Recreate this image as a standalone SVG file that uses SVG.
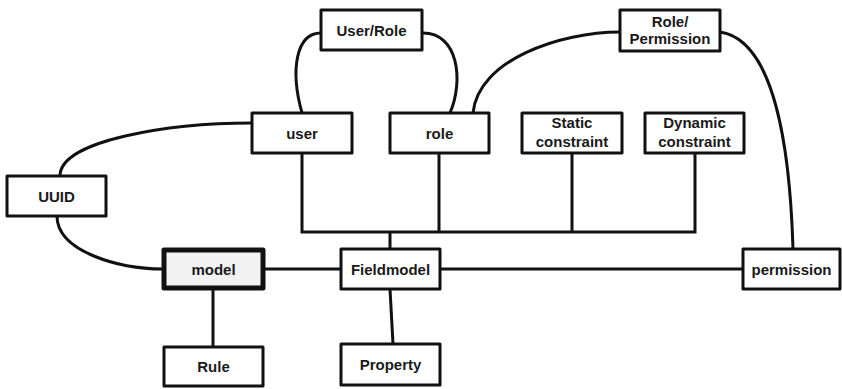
<svg xmlns="http://www.w3.org/2000/svg" width="842" height="389" viewBox="0 0 842 389">
<style>
.box{fill:#fff;stroke:#111;stroke-width:3;stroke-linejoin:round}
.main{fill:#f2f2f2;stroke:#111;stroke-width:5;stroke-linejoin:round}
.lbl{font-family:"Liberation Sans",Arial,sans-serif;font-weight:bold;font-size:15px;fill:#1a1a1a;text-anchor:middle}
.edge{fill:none;stroke:#111;stroke-width:3}
</style>
<rect width="842" height="389" fill="#fff"/>
<g id="connectors">
<path class="edge" d="M264,269 H341"/>
<path class="edge" d="M440,269 H743"/>
<path class="edge" d="M213,289 V346"/>
<path class="edge" d="M390,289 L393,344"/>
<path class="edge" d="M390,232 V249"/>
<path class="edge" d="M302,153 V232 H695 V153"/>
<path class="edge" d="M439,153 V232"/>
<path class="edge" d="M572,153 V232"/>
<path class="edge" d="M57,216 C57,252 120,269 163,269"/>
<path class="edge" d="M60,176 C60,140 170,123 252,123"/>
<path class="edge" d="M302,113 C290,70 296,33 321,33"/>
<path class="edge" d="M423,33 C458,33 464,80 450,113"/>
<path class="edge" d="M473,113 C478,60 560,32 620,32"/>
<path class="edge" d="M720,32 C775,40 790,150 793,249"/>
</g>
<g id="userrole"><rect class="box" x="321" y="10" width="101" height="40"/><text class="lbl" x="371.5" y="35.5">User/Role</text></g>
<g id="rolepermission"><rect class="box" x="620" y="10" width="100" height="41"/><text class="lbl" x="670" y="27">Role/</text><text class="lbl" x="670" y="44">Permission</text></g>
<g id="user"><rect class="box" x="252" y="113" width="100" height="40"/><text class="lbl" x="302" y="138.5">user</text></g>
<g id="role"><rect class="box" x="390" y="113" width="99" height="40"/><text class="lbl" x="439.5" y="138.5">role</text></g>
<g id="static"><rect class="box" x="522" y="113" width="100" height="40"/><text class="lbl" x="572" y="128">Static</text><text class="lbl" x="572" y="146.5">constraint</text></g>
<g id="dynamic"><rect class="box" x="645" y="113" width="99" height="40"/><text class="lbl" x="694.5" y="128">Dynamic</text><text class="lbl" x="694.5" y="146.5">constraint</text></g>
<g id="uuid"><rect class="box" x="7" y="176" width="99" height="40"/><text class="lbl" x="56.5" y="201.5">UUID</text></g>
<g id="model"><rect class="main" x="164" y="250" width="99" height="38"/><text class="lbl" x="213.5" y="274.5">model</text></g>
<g id="fieldmodel"><rect class="box" x="341" y="249" width="99" height="40"/><text class="lbl" x="390.5" y="274.5">Fieldmodel</text></g>
<g id="permission"><rect class="box" x="743" y="249" width="97" height="40"/><text class="lbl" x="791.5" y="274.5">permission</text></g>
<g id="rule"><rect class="box" x="164" y="347" width="99" height="39"/><text class="lbl" x="213.5" y="372">Rule</text></g>
<g id="property"><rect class="box" x="341" y="344" width="99" height="41"/><text class="lbl" x="390.5" y="369.5">Property</text></g>
</svg>
